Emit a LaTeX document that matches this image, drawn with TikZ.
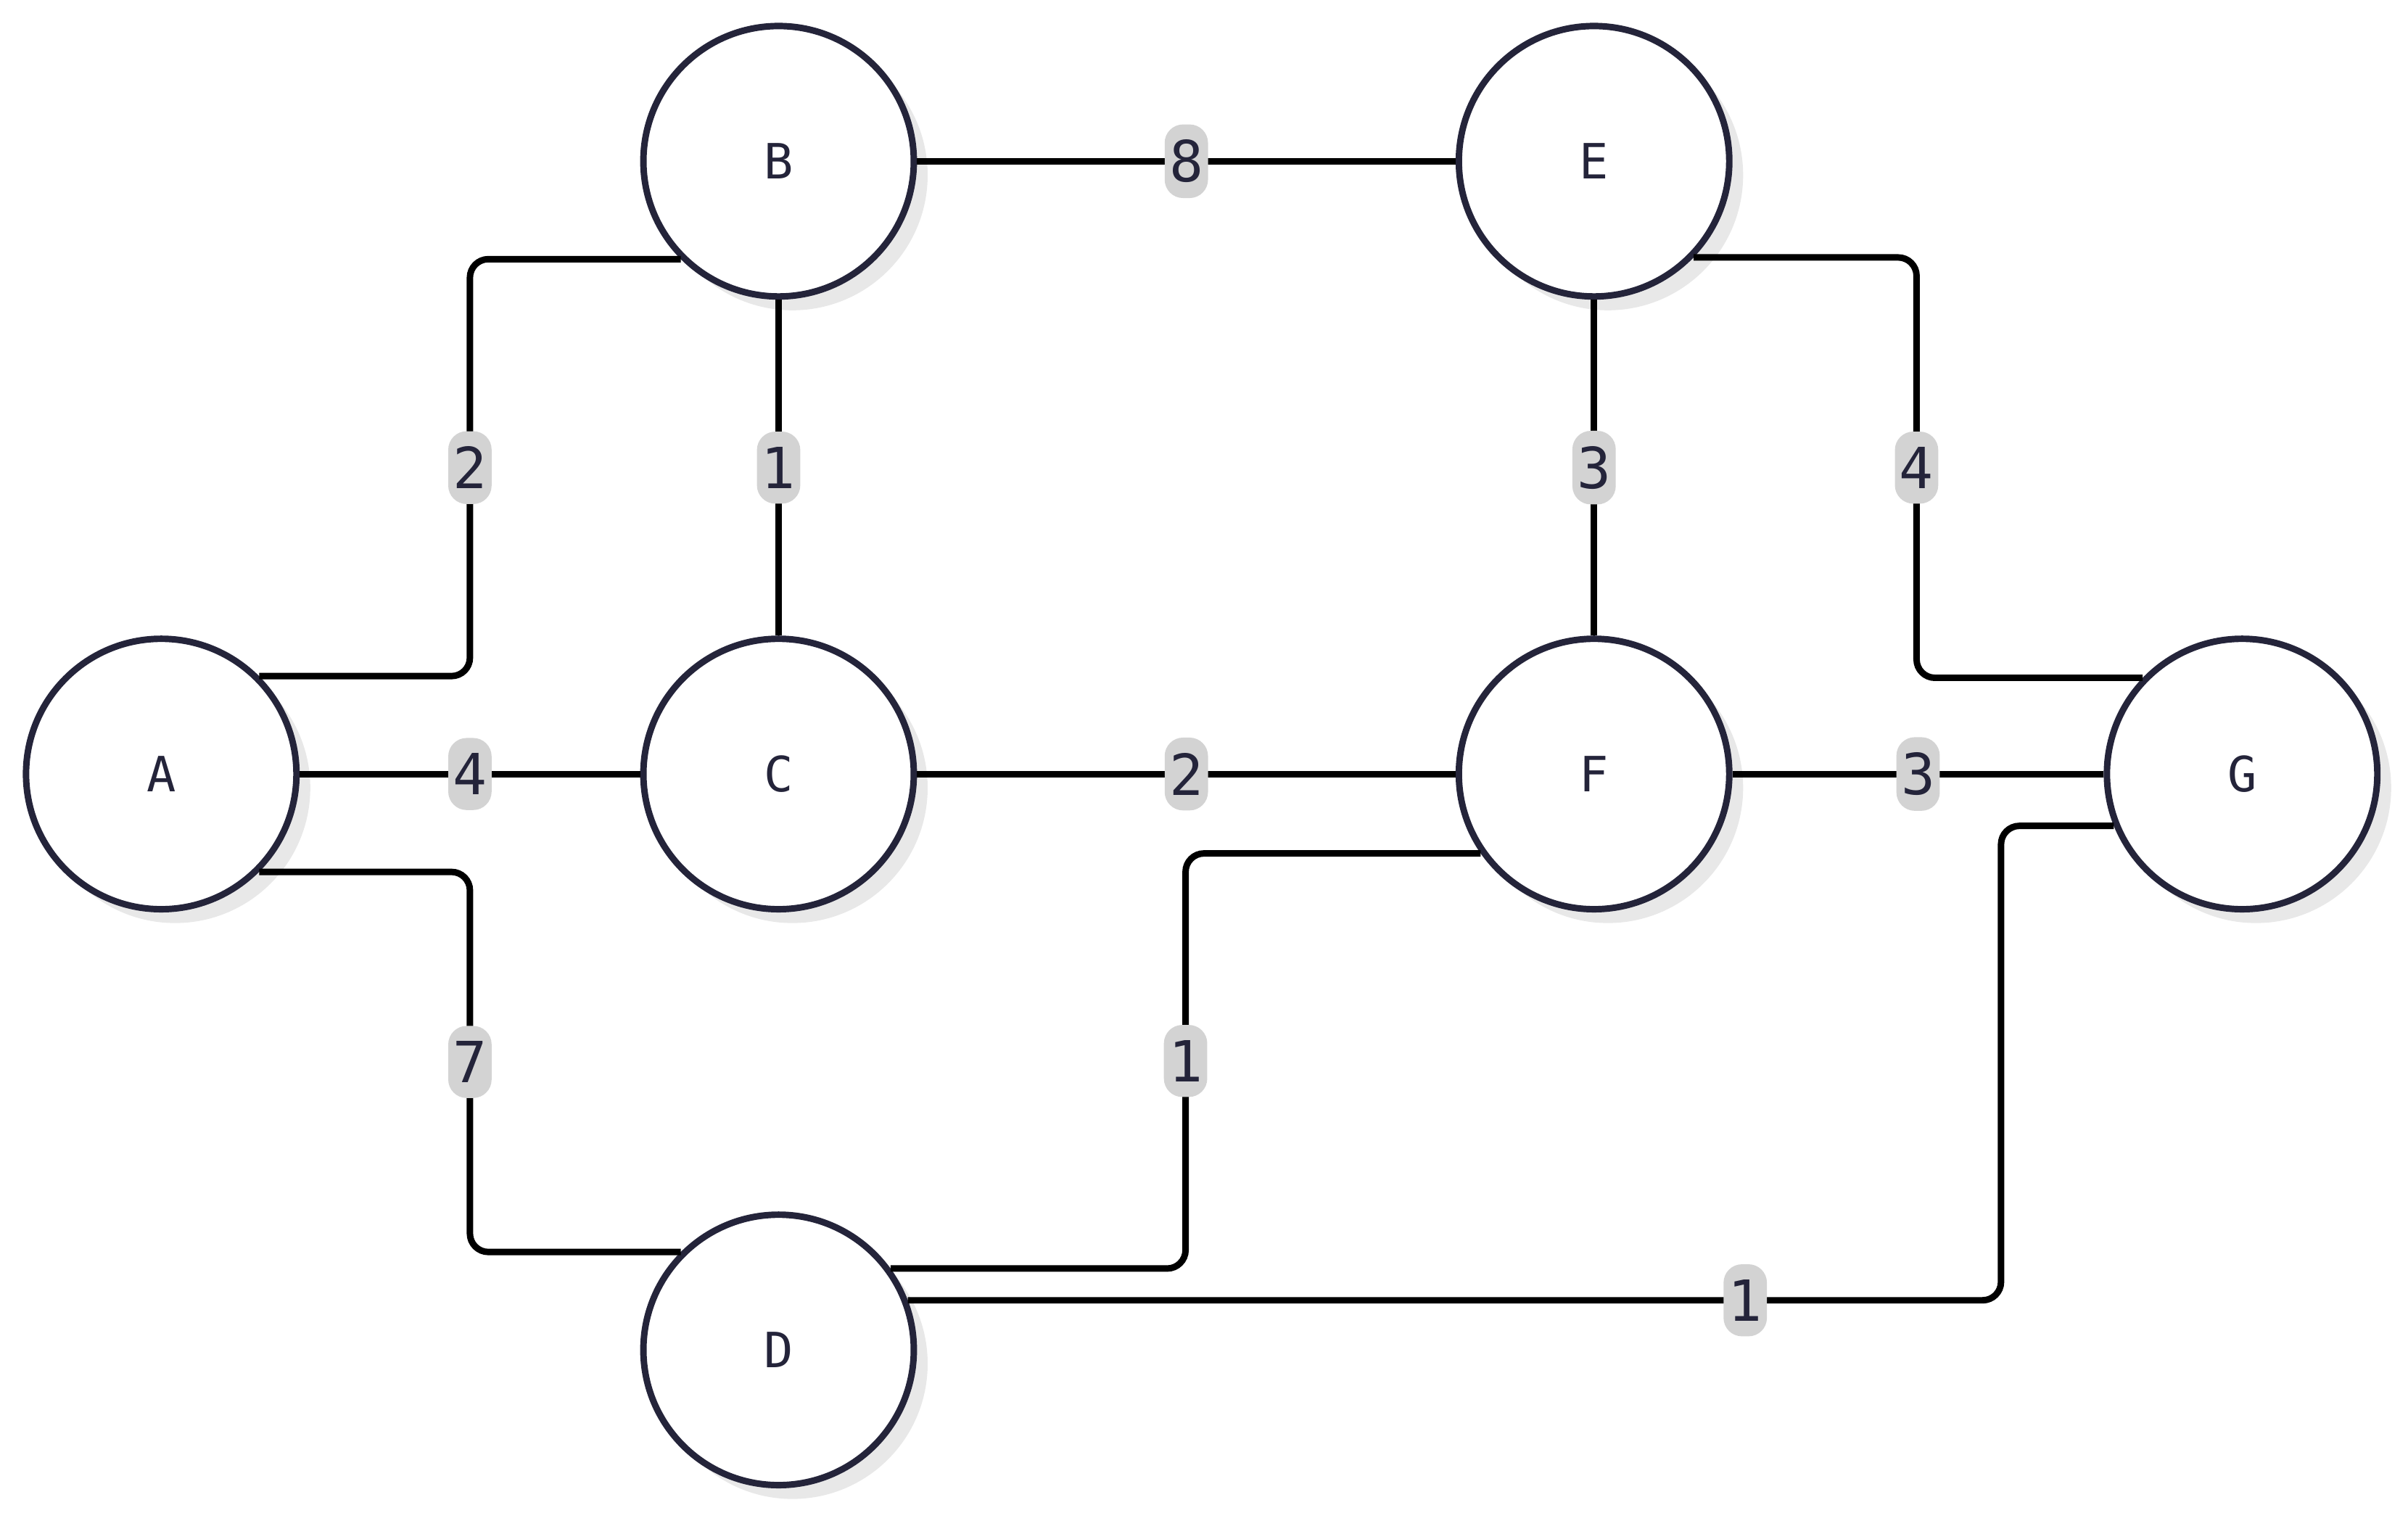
\documentclass[tikz,border=0pt]{standalone}
\usepackage{fontspec}
\setmonofont{DejaVu Sans Mono}
\usetikzlibrary{shadows}
\definecolor{ink}{HTML}{24243A}
\definecolor{tagbg}{HTML}{D3D3D3}
\tikzset{
  vert/.style={
    draw=ink,
    circle,
    line width=1.2pt,
    fill=white,
    minimum size=17.6mm,
    font=\ttfamily\fontsize{9}{9}\selectfont,
    text=ink,
    drop shadow={shadow xshift=0.9mm, shadow yshift=-0.9mm, fill=black!9, opacity=1},
  },
  wire/.style={
    line width=1.2pt,
    rounded corners=1.2mm,
  },
  tag/.style={
    fill=tagbg,
    text=ink,
    inner xsep=0.3mm,
    inner ysep=1mm,
    font=\ttfamily\fontsize{10.5}{10.5}\selectfont,
  },
}
\begin{document}
\begin{tikzpicture}[x=0.01cm, y=-0.01cm]
  \useasboundingbox (0,0) rectangle (1568,985);
  % vertices
  \node[vert] (A) at (105,504) {A};
  \node[vert] (B) at (507,105) {B};
  \node[vert] (C) at (507,504) {C};
  \node[vert] (D) at (507,879) {D};
  \node[vert] (E) at (1038,105) {E};
  \node[vert] (F) at (1038,504) {F};
  \node[vert] (G) at (1460,504) {G};
  % junction columns
  \coordinate (ab) at (306,0);
  \coordinate (df) at (772,0);
  \coordinate (dg) at (1303,0);
  \coordinate (eg) at (1248,0);
  % straight edges
  \draw[wire] (A) -- (C) node[tag, midway] {4};
  \draw[wire] (B) -- (C) node[tag, midway] {1};
  \draw[wire] (B) -- (E) node[tag, midway] {8};
  \draw[wire] (C) -- (F) node[tag, midway] {2};
  \draw[wire] (E) -- (F) node[tag, midway] {3};
  \draw[wire] (F) -- (G) node[tag, midway] {3};
  % bent edges
  \draw[wire] (A.45) -- (A.45 -| ab) -- (ab |- B.225) node[tag, pos=0.5] {2} -- (B.225);
  \draw[wire] (A.315) -- (A.315 -| ab) -- (ab |- D.135) node[tag, pos=0.5] {7} -- (D.135);
  \draw[wire] (D.36) -- (D.36 -| df) -- (df |- F.215) node[tag, pos=0.5] {1} -- (F.215);
  \draw[wire] (D.21) -- (D.21 -| dg) node[tag, pos=0.766] {1} -- (dg |- G.202) -- (G.202);
  \draw[wire] (E.316) -- (E.316 -| eg) -- (eg |- G.136) node[tag, pos=0.5] {4} -- (G.136);
\end{tikzpicture}
\end{document}
